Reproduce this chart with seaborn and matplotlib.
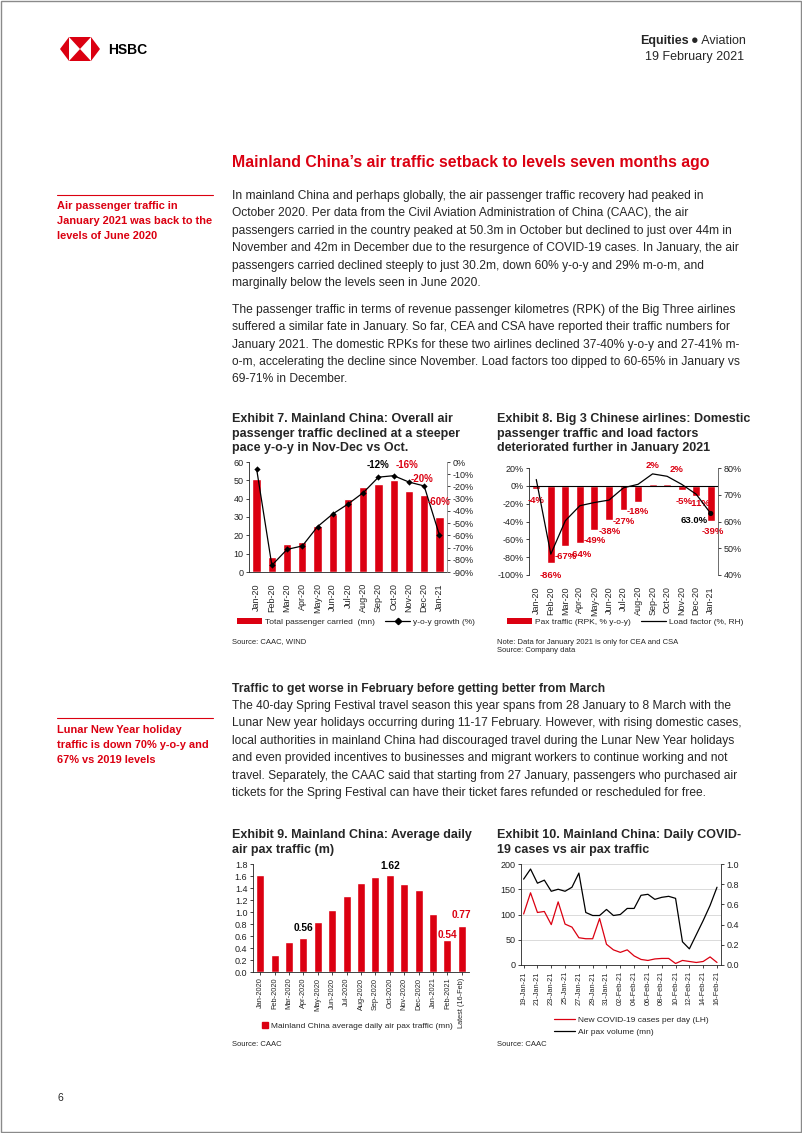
import numpy as np
import matplotlib
matplotlib.use("Agg")
import matplotlib.pyplot as plt
from matplotlib.patches import Polygon, Patch, Rectangle
from matplotlib.lines import Line2D
import seaborn as sns

W, H = 802, 1133
RED = "#DB0011"

# Exhibit 7: passengers carried (mn) and y-o-y growth (%)
months_7 = ["Jan-20", "Feb-20", "Mar-20", "Apr-20", "May-20", "Jun-20", "Jul-20",
            "Aug-20", "Sep-20", "Oct-20", "Nov-20", "Dec-20", "Jan-21"]
pax_carried = [50.5, 8.3, 15.1, 16.6, 25.3, 31.4, 39.6, 46.3, 47.9, 50.3, 44.1, 42.2, 30.2]
yoy_growth = [-5.7, -84.5, -71.5, -68.7, -52.9, -42.5, -34.4, -25.1, -12.4, -11.2, -16.4, -19.6, -59.7]

# Exhibit 8: Big 3 domestic RPK y-o-y (%) and load factor (%)
rpk_yoy = [-4, -86, -67, -64, -49, -38, -27, -18, 2, 2, -5, -11, -39]
load_factor = [75.7, 47.8, 60.3, 65.9, 67.1, 68.0, 72.6, 73.9, 77.8, 76.9, 73.9, 70.2, 63.0]

# Exhibit 9: average daily air pax traffic (mn)
months_9 = ["Jan-2020", "Feb-2020", "Mar-2020", "Apr-2020", "May-2020", "Jun-2020",
            "Jul-2020", "Aug-2020", "Sep-2020", "Oct-2020", "Nov-2020", "Dec-2020",
            "Jan-2021", "Feb-2021", "Latest (16-Feb)"]
daily_pax = [1.62, 0.29, 0.50, 0.56, 0.84, 1.03, 1.26, 1.49, 1.59, 1.62, 1.47, 1.37, 0.97, 0.54, 0.77]

# Exhibit 10: daily COVID-19 cases vs air pax volume
days_10 = ["19-Jan-21", "20-Jan-21", "21-Jan-21", "22-Jan-21", "23-Jan-21", "24-Jan-21",
           "25-Jan-21", "26-Jan-21", "27-Jan-21", "28-Jan-21", "29-Jan-21", "30-Jan-21",
           "31-Jan-21", "01-Feb-21", "02-Feb-21", "03-Feb-21", "04-Feb-21", "05-Feb-21",
           "06-Feb-21", "07-Feb-21", "08-Feb-21", "09-Feb-21", "10-Feb-21", "11-Feb-21",
           "12-Feb-21", "13-Feb-21", "14-Feb-21", "15-Feb-21", "16-Feb-21"]
new_cases = [101, 143, 104, 106, 80, 125, 81, 75, 54, 52, 52, 92, 41, 30, 25, 30,
             18, 11, 9, 12, 13, 13, 3, 9, 7, 5, 7, 16, 5]
air_pax = [0.85, 0.95, 0.81, 0.84, 0.73, 0.75, 0.73, 0.77, 0.91, 0.52, 0.49, 0.49,
           0.55, 0.49, 0.50, 0.56, 0.56, 0.69, 0.70, 0.65, 0.67, 0.68, 0.66, 0.23,
           0.16, 0.30, 0.44, 0.59, 0.77]

sns.set_theme(style="white")
plt.rcParams["font.family"] = ["Liberation Sans", "DejaVu Sans"]
plt.rcParams["axes.linewidth"] = 0.6
plt.rcParams["axes.edgecolor"] = "#222222"

fig = plt.figure(figsize=(W / 100, H / 100), dpi=100)
fig.patch.set_facecolor("white")

# page layer in pixel coordinates
page = fig.add_axes([0, 0, 1, 1])
page.set_xlim(0, W)
page.set_ylim(H, 0)
page.axis("off")


def add_axes(x0, y0, x1, y1):
    return fig.add_axes([x0 / W, 1 - y1 / H, (x1 - x0) / W, (y1 - y0) / H])


def txt(x, y, s, size=8.65, **kw):
    page.text(x, y, s, fontsize=size, va="center", **kw)


# border and logo
page.add_patch(Rectangle((0.5, 0.5), W - 2, H - 2, fill=False, ec="#8a8a8a", lw=1))
for pts in [[(60, 49), (69, 37), (69, 61)],
            [(69, 37), (91, 37), (80, 49)],
            [(69, 61), (91, 61), (80, 49)],
            [(91, 37), (100, 49), (91, 61)]]:
    page.add_patch(Polygon(pts, closed=True, fc=RED, ec="none"))
txt(108, 49.5, "HSBC", size=10, fontweight="bold", color="black")

txt(689, 41, "Equities", size=9, fontweight="bold", ha="right")
txt(691, 41, "\u25cf Aviation", size=9, ha="left")
txt(744, 57, "19 February 2021", size=9, ha="right")

txt(232, 162, "Mainland China\u2019s air traffic setback to levels seven months ago",
    size=11.4, fontweight="bold", color=RED)

# sidebars
page.plot([57, 213], [195, 195], color=RED, lw=0.8)
for i, s in enumerate(["Air passenger traffic in", "January 2021 was back to the",
                       "levels of June 2020"]):
    txt(57, 206 + 15 * i, s, size=7.9, fontweight="bold", color=RED)
page.plot([57, 213], [718, 718], color=RED, lw=0.8)
for i, s in enumerate(["Lunar New Year holiday", "traffic is down 70% y-o-y and",
                       "67% vs 2019 levels"]):
    txt(57, 730 + 15 * i, s, size=7.9, fontweight="bold", color=RED)

para1 = [
    "In mainland China and perhaps globally, the air passenger traffic recovery had peaked in",
    "October 2020. Per data from the Civil Aviation Administration of China (CAAC), the air",
    "passengers carried in the country peaked at 50.3m in October but declined to just over 44m in",
    "November and 42m in December due to the resurgence of COVID-19 cases. In January, the air",
    "passengers carried declined steeply to just 30.2m, down 60% y-o-y and 29% m-o-m, and",
    "marginally below the levels seen in June 2020.",
]
para2 = [
    "The passenger traffic in terms of revenue passenger kilometres (RPK) of the Big Three airlines",
    "suffered a similar fate in January. So far, CEA and CSA have reported their traffic numbers for",
    "January 2021. The domestic RPKs for these two airlines declined 37-40% y-o-y and 27-41% m-",
    "o-m, accelerating the decline since November. Load factors too dipped to 60-65% in January vs",
    "69-71% in December.",
]
para3 = [
    "The 40-day Spring Festival travel season this year spans from 28 January to 8 March with the",
    "Lunar New year holidays occurring during 11-17 February. However, with rising domestic cases,",
    "local authorities in mainland China had discouraged travel during the Lunar New Year holidays",
    "and even provided incentives to businesses and migrant workers to continue working and not",
    "travel. Separately, the CAAC said that starting from 27 January, passengers who purchased air",
    "tickets for the Spring Festival can have their ticket fares refunded or rescheduled for free.",
]
for i, s in enumerate(para1):
    txt(232, 196 + 17.4 * i, s)
for i, s in enumerate(para2):
    txt(232, 310 + 17.3 * i, s)
txt(232, 689, "Traffic to get worse in February before getting better from March",
    size=8.7, fontweight="bold")
for i, s in enumerate(para3):
    txt(232, 706 + 17.4 * i, s)

# exhibit titles and sources
for i, s in enumerate(["Exhibit 7. Mainland China: Overall air",
                       "passenger traffic declined at a steeper",
                       "pace y-o-y in Nov-Dec vs Oct."]):
    txt(232, 419 + 14.5 * i, s, size=9, fontweight="bold")
for i, s in enumerate(["Exhibit 8. Big 3 Chinese airlines: Domestic",
                       "passenger traffic and load factors",
                       "deteriorated further in January 2021"]):
    txt(497, 419 + 14.5 * i, s, size=9, fontweight="bold")
for i, s in enumerate(["Exhibit 9. Mainland China: Average daily", "air pax traffic (m)"]):
    txt(232, 835 + 14.5 * i, s, size=9, fontweight="bold")
for i, s in enumerate(["Exhibit 10. Mainland China: Daily COVID-", "19 cases vs air pax traffic"]):
    txt(497, 835 + 14.5 * i, s, size=9, fontweight="bold")

txt(232, 642, "Source: CAAC, WIND", size=5.5)
txt(497, 643, "Note: Data for January 2021 is only for CEA and CSA", size=5.5)
txt(497, 651, "Source: Company data", size=5.5)
txt(232, 1045, "Source: CAAC", size=5.5)
txt(497, 1045, "Source: CAAC", size=5.5)
txt(58, 1098, "6", size=7.5)

TICK = dict(labelsize=6.5, length=2.5, width=0.6, pad=1.5, colors="#222222")


def style_y(ax, side="left"):
    if side == "left":
        ax.tick_params(axis="y", left=True, right=False, labelleft=True, labelright=False, **TICK)
    else:
        ax.tick_params(axis="y", left=False, right=True, labelleft=False, labelright=True, **TICK)


def pct(vals):
    return [f"{v}%" for v in vals]


LEG = dict(frameon=False, fontsize=6, handletextpad=0.4)

# ---- Exhibit 7
ax7 = add_axes(249, 462, 447, 572)
sns.barplot(x=months_7, y=pax_carried, color=RED, saturation=1, width=0.55, ax=ax7)
ax7.set_xlim(-0.5, len(months_7) - 0.5)
ax7.set_ylim(0, 60)
ax7.set_yticks(range(0, 61, 10))
ax7.set_xlabel("")
ax7.set_ylabel("")
style_y(ax7)
ax7.tick_params(axis="x", rotation=90, bottom=False, pad=2, labelsize=6.5)
tw7 = ax7.twinx()
sns.lineplot(x=np.arange(len(months_7)), y=yoy_growth, color="black", lw=0.9,
             marker="D", markersize=3.2, markeredgewidth=0, ax=tw7)
tw7.set_ylim(-90, 0)
yt = list(range(-90, 1, 10))
tw7.set_yticks(yt)
tw7.set_yticklabels(pct(yt))
style_y(tw7, "right")
for a in (ax7, tw7):
    a.spines["top"].set_visible(False)
ax7.spines["right"].set_visible(False)
tw7.spines["left"].set_visible(False)
tw7.spines["bottom"].set_visible(False)
tw7.spines["right"].set_color("#8a8a8a")
lab7 = [(8, "-12%", "black", 0, 9), (10, "-16%", RED, -1.5, 12),
        (11, "-20%", RED, -1.5, 5), (12, "-60%", RED, -0.5, 24)]
for i, s, c, dx, dy in lab7:
    tw7.annotate(s, (i, yoy_growth[i]), xytext=(dx, dy), textcoords="offset points",
                 ha="center", va="center", fontsize=7, fontweight="bold", color=c)
fig.legend(handles=[Patch(fc=RED, ec="none", label="Total passenger carried  (mn)"),
                    Line2D([], [], color="black", lw=0.9, marker="D", markersize=3.2,
                           label="y-o-y growth (%)")],
           loc="center", bbox_to_anchor=(356 / W, 1 - 622 / H), ncol=2,
           handlelength=3.0, handleheight=0.7, columnspacing=1.2, **LEG)

# ---- Exhibit 8
ax8 = add_axes(529, 468, 718, 575)
sns.barplot(x=months_7, y=rpk_yoy, color=RED, saturation=1, width=0.55, ax=ax8)
ax8.set_xlim(-0.5, len(months_7) - 0.5)
ax8.set_ylim(-100, 20)
yt = list(range(-100, 21, 20))
ax8.set_yticks(yt)
ax8.set_yticklabels(pct(yt))
ax8.set_xlabel("")
ax8.set_ylabel("")
ax8.axhline(0, color="black", lw=0.8)
style_y(ax8)
ax8.tick_params(axis="x", rotation=90, bottom=False, pad=2, labelsize=6.5)
tw8 = ax8.twinx()
sns.lineplot(x=np.arange(len(months_7)), y=load_factor, color="black", lw=0.9, ax=tw8)
sns.scatterplot(x=[len(months_7) - 1], y=[load_factor[-1]], color="black", s=14,
                edgecolor="none", ax=tw8)
tw8.set_ylim(40, 80)
yt = list(range(40, 81, 10))
tw8.set_yticks(yt)
tw8.set_yticklabels(pct(yt))
style_y(tw8, "right")
for a in (ax8, tw8):
    a.spines["top"].set_visible(False)
    a.spines["bottom"].set_visible(False)
ax8.spines["right"].set_visible(False)
tw8.spines["left"].set_visible(False)
tw8.spines["right"].set_color("#555555")
off8 = [(0, -8), (0, -9), (0.5, -8), (0.5, -8.5), (0.5, -8), (0.5, -8.5), (0.5, -8),
        (0, -7), (0, 13.5), (7, 10.5), (1.5, -8), (2.5, -5.5), (1.5, -8)]
for i, (v, (dx, dy)) in enumerate(zip(rpk_yoy, off8)):
    ax8.annotate(f"{v}%", (i, v), xytext=(dx, dy), textcoords="offset points",
                 ha="center", va="center", fontsize=6.8, fontweight="bold", color=RED)
tw8.annotate(f"{load_factor[-1]:.1f}%", (len(months_7) - 1, load_factor[-1]), xytext=(-12, -5),
             textcoords="offset points", ha="center", va="center", fontsize=6.8,
             fontweight="bold", color="black")
fig.legend(handles=[Patch(fc=RED, ec="none", label="Pax traffic (RPK, % y-o-y)"),
                    Line2D([], [], color="black", lw=0.9, label="Load factor (%, RH)")],
           loc="center", bbox_to_anchor=(625 / W, 1 - 622 / H), ncol=2,
           handlelength=3.0, handleheight=0.7, columnspacing=1.2, **LEG)

# ---- Exhibit 9
ax9 = add_axes(253, 864, 469, 972)
sns.barplot(x=months_9, y=daily_pax, color=RED, saturation=1, width=0.55, ax=ax9)
ax9.set_xlim(-0.5, len(months_9) - 0.5)
ax9.set_ylim(0, 1.8)
yt = np.round(np.arange(0, 1.81, 0.2), 1)
ax9.set_yticks(yt)
ax9.set_yticklabels([f"{v:.1f}" for v in yt])
ax9.set_xlabel("")
ax9.set_ylabel("")
style_y(ax9)
ax9.tick_params(axis="x", rotation=90, bottom=True, length=2, width=0.6, pad=2, labelsize=5.3)
ax9.spines["top"].set_visible(False)
ax9.spines["right"].set_visible(False)
lab9 = [(3, "black", 7.5), (9, "black", 6), (13, RED, 3), (14, RED, 7.5)]
for i, c, dy in lab9:
    ax9.annotate(f"{daily_pax[i]:.2f}", (i, daily_pax[i]), xytext=(0, dy),
                 textcoords="offset points", ha="center", va="center", fontsize=7.3,
                 fontweight="bold", color=c)
fig.legend(handles=[Line2D([], [], color=RED, lw=0, marker="s", markersize=4,
                           label="Mainland China average daily air pax traffic (mn)")],
           loc="center", bbox_to_anchor=(358 / W, 1 - 1026 / H), handlelength=0.6, **LEG)

# ---- Exhibit 10
x10 = np.arange(len(days_10))
ax10 = add_axes(521, 864, 721, 965)
ax10.grid(axis="y", color="#d4d4d4", lw=0.6)
ax10.set_axisbelow(True)
sns.lineplot(x=x10, y=new_cases, color=RED, lw=0.9, ax=ax10)
ax10.set_xlim(-0.38, len(days_10) - 0.42)
ax10.set_ylim(0, 200)
ax10.set_yticks(range(0, 201, 50))
ax10.set_xticks(x10[::2])
ax10.set_xticklabels(days_10[::2])
style_y(ax10)
ax10.tick_params(axis="x", rotation=90, bottom=True, length=2.5, width=0.6, pad=2, labelsize=5.3)
tw10 = ax10.twinx()
sns.lineplot(x=x10, y=air_pax, color="black", lw=0.9, ax=tw10)
tw10.set_ylim(0, 1.0)
yt = np.round(np.arange(0, 1.01, 0.2), 1)
tw10.set_yticks(yt)
tw10.set_yticklabels([f"{v:.1f}" for v in yt])
style_y(tw10, "right")
for a in (ax10, tw10):
    a.spines["top"].set_visible(False)
ax10.spines["right"].set_visible(False)
tw10.spines["left"].set_visible(False)
tw10.spines["bottom"].set_visible(False)
fig.legend(handles=[Line2D([], [], color=RED, lw=0.9, label="New COVID-19 cases per day (LH)"),
                    Line2D([], [], color="black", lw=0.9, label="Air pax volume (mn)")],
           loc="center left", bbox_to_anchor=(546 / W, 1 - 1026 / H), ncol=1,
           handlelength=2.6, labelspacing=0.4, **LEG)

fig.savefig("out.png", dpi=100)
